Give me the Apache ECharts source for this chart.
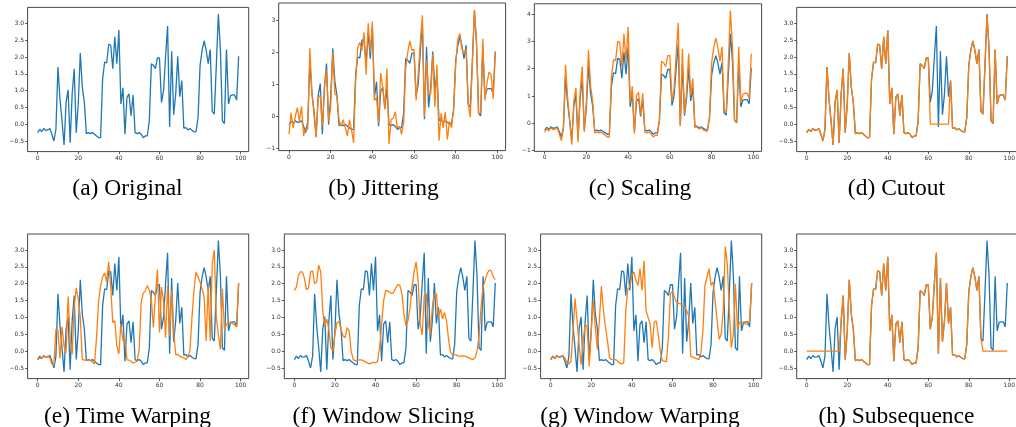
<!DOCTYPE html>
<html><head><meta charset="utf-8">
<script src="https://cdn.jsdelivr.net/npm/echarts@6/dist/echarts.min.js"></script>
<style>html,body{margin:0;padding:0;background:#fff}#c{width:1016px;height:427px}</style>
</head><body><div id="c"></div>
<script>
const xTicks = [0, 20, 40, 60, 80, 100];
const yTicksHalf = [-0.5, 0, 0.5, 1, 1.5, 2, 2.5, 3];
const yTicksB = [-1, 0, 1, 2, 3];
const yTicksC = [-1, 0, 1, 2, 3, 4];
const captions = ['(a) Original', '(b) Jittering', '(c) Scaling', '(d) Cutout',
  '(e) Time Warping', '(f) Window Slicing', '(g) Window Warping', '(h) Subsequence'];

const original = [
-0.25,-0.15,-0.22,-0.13,-0.18,-0.17,-0.13,-0.3,-0.5,-0.15,
1.7,0.75,0.1,-0.62,0.65,1.02,-0.55,0.9,1.65,-0.25,
0.6,2.12,1.1,0.65,-0.28,-0.25,-0.28,-0.25,-0.3,-0.35,
-0.4,-0.4,1.35,1.85,1.82,2.38,2.35,1.65,2.6,1.8,
2.8,0.6,1.08,-0.3,0.8,0.9,0.25,0.87,-0.25,-0.28,
-0.25,-0.3,-0.4,-0.35,-0.35,0.1,1.8,1.75,1.65,1.97,
1.97,0.65,1.0,2.0,2.92,-0.08,2.17,0.28,0.9,2.02,
0.82,1.3,-0.12,-0.1,-0.17,-0.13,-0.18,-0.22,-0.23,0.2,
1.75,2.2,2.48,2.2,1.8,2.22,0.38,0.3,1.75,3.28,
2.25,0.1,0.02,2.22,0.6,0.85,0.87,0.87,0.72,2.02];

const jittering = [
-0.55,0.12,-0.35,0.0,0.28,-0.15,0.32,-0.6,-0.35,-0.4,
2.12,0.7,0.2,-0.65,0.6,0.65,-0.3,0.9,1.45,-0.15,
0.3,2.0,0.7,0.65,-0.1,-0.3,-0.1,-0.35,-0.6,-0.1,
-0.4,-0.82,1.1,2.15,2.3,2.05,2.62,1.3,2.9,2.0,
2.95,0.5,0.6,-0.2,1.35,0.9,0.22,1.5,-0.85,-0.1,
-0.05,0.15,-0.35,-0.3,-0.55,-0.2,1.5,2.0,2.35,2.05,
2.1,0.5,1.3,2.3,3.15,0.0,1.75,0.7,0.7,1.95,
0.3,1.62,-0.75,0.1,-0.35,0.15,-0.72,-0.15,-0.35,0.25,
1.6,2.4,2.58,2.1,1.95,2.1,0.4,-0.02,1.6,3.32,
2.3,0.1,0.1,2.42,0.5,1.05,1.38,1.3,0.55,2.0];

const scaling = [
-0.32,-0.19,-0.28,-0.16,-0.23,-0.21,-0.16,-0.38,-0.63,-0.19,
2.14,0.95,0.13,-0.78,0.82,1.29,-0.69,1.13,2.08,-0.32,
0.76,2.67,1.39,0.82,-0.35,-0.32,-0.35,-0.32,-0.38,-0.44,
-0.5,-0.5,1.7,2.33,2.29,3.0,2.96,2.08,3.28,2.27,
3.53,0.76,1.36,-0.38,1.01,1.13,0.32,1.1,-0.32,-0.35,
-0.32,-0.38,-0.5,-0.44,-0.44,0.13,2.27,2.21,2.08,2.48,
2.48,0.82,1.26,2.52,3.68,-0.1,2.73,0.35,1.13,2.55,
1.03,1.64,-0.15,-0.13,-0.21,-0.16,-0.23,-0.28,-0.29,0.25,
2.21,2.77,3.12,2.77,2.27,2.8,0.48,0.38,2.21,4.13,
2.84,0.13,0.03,2.8,0.76,1.07,1.1,1.1,0.91,2.55];

const cutout = [
-0.25,-0.15,-0.22,-0.13,-0.18,-0.17,-0.13,-0.3,-0.5,-0.15,
1.7,0.75,0.1,-0.62,0.65,1.02,-0.55,0.9,1.65,-0.25,
0.6,2.12,1.1,0.65,-0.28,-0.25,-0.28,-0.25,-0.3,-0.35,
-0.4,-0.4,1.35,1.85,1.82,2.38,2.35,1.65,2.6,1.8,
2.8,0.6,1.08,-0.3,0.8,0.9,0.25,0.87,-0.25,-0.28,
-0.25,-0.3,-0.4,-0.35,-0.35,0.1,1.8,1.75,1.65,1.97,
1.97,0,0,0,0,0,0,0,0,0,
0,1.3,-0.12,-0.1,-0.17,-0.13,-0.18,-0.22,-0.23,0.2,
1.75,2.2,2.48,2.2,1.8,2.22,0.38,0.3,1.75,3.28,
2.25,0.1,0.02,2.22,0.6,0.85,0.87,0.87,0.72,2.02];

const timeWarping = [
-0.25,-0.2,-0.22,-0.15,-0.18,-0.15,-0.2,-0.38,-0.42,0.65,
0.62,-0.22,0.72,0.15,-0.05,1.62,0.4,-0.1,1.3,1.88,
1.55,1.0,-0.25,-0.27,-0.25,-0.27,-0.28,-0.32,-0.38,0.4,
1.45,1.95,2.2,2.32,2.05,2.65,1.9,0.85,0.9,0.15,
-0.08,0.8,0.3,0.35,-0.25,-0.27,-0.3,-0.35,-0.33,-0.3,
0.05,1.45,1.72,1.78,1.95,1.8,1.55,0.7,1.65,2.42,
0.55,1.9,1.5,0.4,1.95,0.45,1.8,0.6,-0.1,-0.1,
-0.15,-0.18,-0.2,-0.25,-0.15,0.0,1.0,1.8,2.35,2.2,
2.05,1.85,1.6,0.3,1.95,0.3,2.6,3.0,1.0,0.5,
0.05,1.85,0.65,0.8,0.85,0.85,0.82,0.78,0.72,2.02];

const windowSlicing = [
1.8,1.9,2.25,2.35,2.35,2.15,1.82,1.88,2.35,2.38,
2.0,2.05,2.55,2.35,1.2,0.75,0.95,0.65,0.1,0.0,
0.5,0.85,0.88,0.65,0.45,0.4,0.7,0.6,0.0,-0.25,
-0.28,-0.28,-0.26,-0.26,-0.28,-0.32,-0.35,-0.38,-0.35,-0.33,
-0.35,-0.3,0.1,0.8,1.5,1.8,1.78,1.75,1.7,1.75,
1.88,1.97,1.95,1.7,1.1,0.75,0.9,1.3,1.9,2.35,
2.65,2.1,0.8,0.48,1.65,1.7,0.8,0.5,1.3,1.7,
1.7,1.0,1.25,0.95,1.15,0.9,0.35,-0.05,-0.1,-0.1,
-0.12,-0.15,-0.15,-0.14,-0.15,-0.17,-0.2,-0.23,-0.25,-0.2,
0.0,0.45,1.3,1.9,2.1,2.3,2.4,2.38,2.2,2.12];

const windowWarping = [
-0.25,-0.17,-0.2,-0.15,-0.18,-0.15,-0.15,-0.2,-0.35,-0.38,
-0.3,0.6,1.57,0.9,0.2,-0.4,0.3,0.8,0.7,-0.45,
0.6,1.5,0.7,0.05,0.9,1.93,1.2,0.7,0.3,-0.2,
-0.25,-0.25,-0.25,-0.3,-0.35,-0.38,-0.35,1.2,1.85,1.9,
2.25,2.35,2.1,1.95,2.45,1.8,2.68,1.2,1.0,0.8,
0.1,0.85,0.9,0.5,0.0,-0.28,-0.3,-0.32,0.4,1.7,
1.78,1.6,1.45,1.42,1.4,1.35,1.3,1.2,1.05,-0.15,
-0.18,-0.2,-0.22,-0.25,-0.05,0.6,1.95,2.2,2.45,1.95,
2.05,1.5,0.9,0.35,0.5,1.2,3.1,2.6,1.2,0.1,
0.5,2.0,0.65,0.85,0.85,0.85,0.8,0.8,0.9,2.02];

const subsequence = [
0,0,0,0,0,0,0,0,0,0,
0,0,0,0,0,0,0,0.9,1.65,-0.25,
0.6,2.12,1.1,0.65,-0.28,-0.25,-0.28,-0.25,-0.3,-0.35,
-0.4,-0.4,1.35,1.85,1.82,2.38,2.35,1.65,2.6,1.8,
2.8,0.6,1.08,-0.3,0.8,0.9,0.25,0.87,-0.25,-0.28,
-0.25,-0.3,-0.4,-0.35,-0.35,0.1,1.8,1.75,1.65,1.97,
1.97,0.65,1.0,2.0,2.92,-0.08,2.17,0.28,0.9,2.02,
0.82,1.3,-0.12,-0.1,-0.17,-0.13,-0.18,-0.22,-0.23,0.2,
1.75,2.2,2.48,2.2,1.8,2.22,0.38,0,0,0,
0,0,0,0,0,0,0,0,0,0];

// layout (pixels)
const grids = [
  {left: 27.6, top: 7.4, width: 221.1, height: 144.2},
  {left: 278.7, top: 3.0, width: 226.9, height: 147.6},
  {left: 534.3, top: 3.75, width: 227.3, height: 147.6},
  {left: 796.7, top: 7.4, width: 220.6, height: 144.2},
  {left: 27.6, top: 234, width: 221.1, height: 144.6},
  {left: 284.3, top: 234, width: 221, height: 144.6},
  {left: 540.6, top: 234, width: 221.1, height: 144.6},
  {left: 796.7, top: 234, width: 220.6, height: 144.6}
];
const capPos = [[127.5,188.5],[383.5,188.5],[640,188.5],[896.5,188.5],[127.5,417],[383.5,417],[640,417],[896.5,417]];
const panels = [
  {aug: null, ticks: yTicksHalf, dec: 1},
  {aug: jittering, ticks: yTicksB, dec: 0},
  {aug: scaling, ticks: yTicksC, dec: 0},
  {aug: cutout, ticks: yTicksHalf, dec: 1},
  {aug: timeWarping, ticks: yTicksHalf, dec: 1},
  {aug: windowSlicing, ticks: yTicksHalf, dec: 1},
  {aug: windowWarping, ticks: yTicksHalf, dec: 1},
  {aug: subsequence, ticks: yTicksHalf, dec: 1}
];

const BLUE = '#1f77b4', ORANGE = '#ff7f0e', AX = '#333';
const pairs = arr => arr.map((v, i) => [i, v]);
const fmt = dec => v => (v < 0 ? '\u2212' : '') + Math.abs(v).toFixed(dec);
const n = original.length;
const xMin = 0 - 0.05 * (n - 1), xMax = (n - 1) + 0.05 * (n - 1);

const option = {
  animation: false,
  backgroundColor: '#fff',
  grid: [], xAxis: [], yAxis: [], series: [], graphic: []
};

panels.forEach((p, k) => {
  const all = p.aug ? original.concat(p.aug) : original;
  const lo = Math.min(...all), hi = Math.max(...all), r = hi - lo;
  option.grid.push(Object.assign({show: true, borderColor: AX, borderWidth: 0.9, backgroundColor: '#fff', containLabel: false, outerBoundsMode: 'none'}, grids[k]));
  option.xAxis.push({
    type: 'value', gridIndex: k, min: xMin, max: xMax, position: 'bottom',
    splitLine: {show: false}, axisLine: {show: false, onZero: false},
    axisTick: {show: true, length: 2.5, lineStyle: {color: AX, width: 0.8}, customValues: xTicks},
    axisLabel: {customValues: xTicks, fontSize: 6, color: AX, fontFamily: 'DejaVu Sans', margin: 3.5, formatter: v => String(v)}
  });
  option.yAxis.push({
    type: 'value', gridIndex: k, min: lo - 0.05 * r, max: hi + 0.05 * r, position: 'left',
    splitLine: {show: false}, axisLine: {show: false, onZero: false},
    axisTick: {show: true, length: 2.5, lineStyle: {color: AX, width: 0.8}, customValues: p.ticks},
    axisLabel: {customValues: p.ticks, fontSize: 6, color: AX, fontFamily: 'DejaVu Sans', margin: 3.5, formatter: fmt(p.dec)}
  });
  option.series.push({type: 'line', xAxisIndex: k, yAxisIndex: k, data: pairs(original), showSymbol: false, symbol: 'none', lineStyle: {color: BLUE, width: 1.3}, z: 2});
  if (p.aug) option.series.push({type: 'line', xAxisIndex: k, yAxisIndex: k, data: pairs(p.aug), showSymbol: false, symbol: 'none', lineStyle: {color: ORANGE, width: 1.3}, z: 3});
  option.graphic.push({type: 'text', x: capPos[k][0], y: capPos[k][1], style: {text: captions[k], fill: '#000', font: '23.5px "Liberation Serif"', textAlign: 'center', textVerticalAlign: 'middle'}});
});

const chart = echarts.init(document.getElementById('c'), null, {renderer: 'canvas'});
chart.setOption(option);
</script></body></html>
